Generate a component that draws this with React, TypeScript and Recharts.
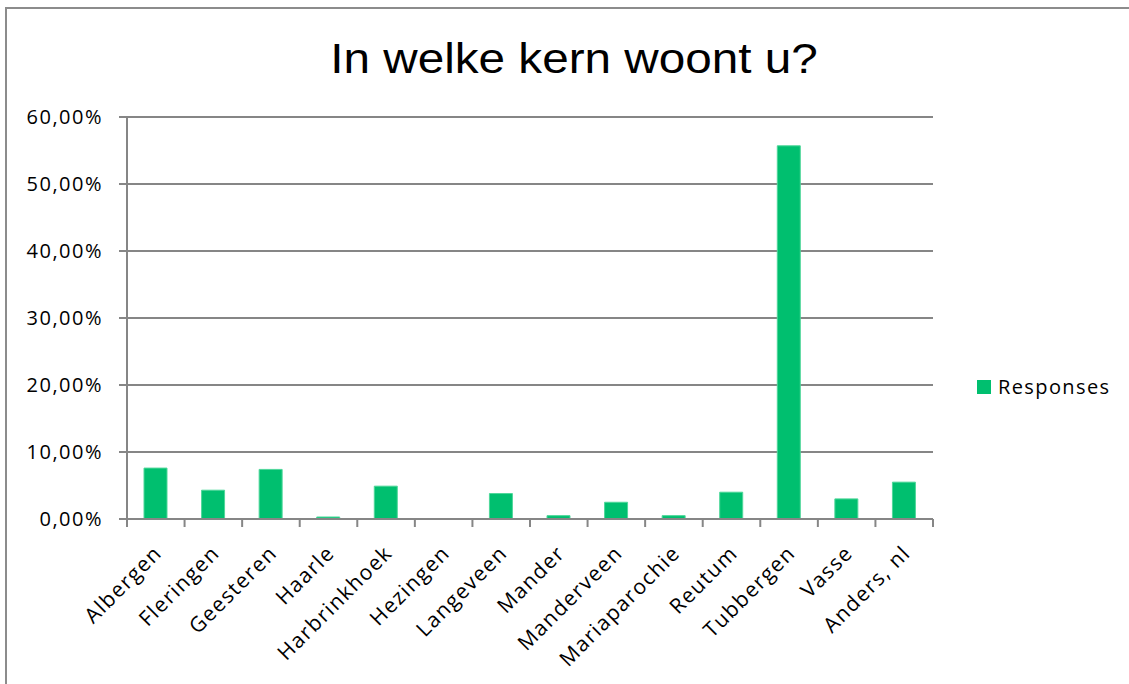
import { BarChart, Bar, XAxis, YAxis, CartesianGrid } from "recharts";

const CATEGORIES = [
  "Albergen",
  "Fleringen",
  "Geesteren",
  "Haarle",
  "Harbrinkhoek",
  "Hezingen",
  "Langeveen",
  "Mander",
  "Manderveen",
  "Mariaparochie",
  "Reutum",
  "Tubbergen",
  "Vasse",
  "Anders, nl",
];

const RESPONSES = [7.6, 4.3, 7.4, 0.3, 4.9, 0, 3.8, 0.5, 2.5, 0.5, 4.0, 55.7, 3.0, 5.5];

const Y_TICKS = [0, 10, 20, 30, 40, 50, 60];

const GREEN = "#00BF6F";
const GRID = "#868686";
const LABEL_FONT = "'Open Sans', 'Noto Sans', sans-serif";

const data = CATEGORIES.map((name, i) => ({
  name,
  pos: i + 0.5,
  value: RESPONSES[i],
}));

// tick marks sit on the category boundaries, like the original
const edgeTicks = CATEGORIES.map((_, i) => i).concat(CATEGORIES.length);

const CHART_W = 1129;
const CHART_H = 684;
const MARGIN = { top: 117, right: 196, left: 0, bottom: 0 };
const Y_WIDTH = 127;
const BAND = (CHART_W - MARGIN.right - Y_WIDTH) / CATEGORIES.length;

const CategoryTick = (props: any) => {
  const { x, y, payload } = props;
  const idx = payload.value as number;
  if (idx >= CATEGORIES.length) return null;
  const cx = x + BAND / 2 - 5;
  const cy = y + 13;
  return (
    <text
      x={cx}
      y={cy}
      transform={`rotate(-45, ${cx}, ${cy})`}
      textAnchor="end"
      dominantBaseline="hanging"
      fontSize={21}
      letterSpacing={1.4}
      fontFamily={LABEL_FONT}
      fill="#000"
    >
      {CATEGORIES[idx]}
    </text>
  );
};

export default function App() {
  return (
    <div
      style={{
        position: "fixed",
        left: 0,
        top: 0,
        width: CHART_W,
        height: CHART_H,
        overflow: "hidden",
        background: "#fff",
      }}
    >
      <div
        style={{
          position: "absolute",
          left: 5,
          top: 7,
          width: 1140,
          height: 700,
          borderTop: "2px solid #8c8c8c",
          borderLeft: "2px solid #8c8c8c",
        }}
      />
      <div
        style={{
          position: "absolute",
          left: 0,
          top: 38,
          width: 1148,
          textAlign: "center",
          fontFamily: "'Liberation Sans', Arial, sans-serif",
          fontSize: 42,
          lineHeight: "42px",
          color: "#000",
          transform: "scaleX(1.135)",
        }}
      >
        In welke kern woont u?
      </div>
      <div
        style={{
          position: "absolute",
          left: 977,
          top: 373,
          display: "flex",
          alignItems: "center",
          fontFamily: LABEL_FONT,
          fontSize: 20,
          letterSpacing: 1.4,
          color: "#000",
        }}
      >
        <span
          style={{
            display: "inline-block",
            width: 14,
            height: 14,
            background: GREEN,
            marginRight: 7,
          }}
        />
        Responses
      </div>
      <div style={{ position: "absolute", left: 0, top: 0 }}>
        <BarChart width={CHART_W} height={CHART_H} data={data} margin={MARGIN}>
          <CartesianGrid vertical={false} stroke={GRID} strokeWidth={2} />
          <XAxis
            dataKey="pos"
            type="number"
            domain={[0, CATEGORIES.length]}
            ticks={edgeTicks}
            interval={0}
            height={165}
            stroke={GRID}
            strokeWidth={2}
            tickSize={8}
            tick={<CategoryTick />}
          />
          <YAxis
            width={Y_WIDTH}
            domain={[0, 60]}
            ticks={Y_TICKS}
            interval={0}
            stroke={GRID}
            strokeWidth={2}
            tickSize={8}
            tickMargin={16}
            tick={{ fill: "#000", fontSize: 20, letterSpacing: 1.5, fontFamily: LABEL_FONT }}
            tickFormatter={(v: number) => v.toFixed(2).replace(".", ",") + "%"}
          />
          <Bar
            dataKey="value"
            fill={GREEN}
            barSize={23}
            stroke="#4fd79a"
            strokeWidth={1}
            isAnimationActive={false}
          />
        </BarChart>
      </div>
    </div>
  );
}
